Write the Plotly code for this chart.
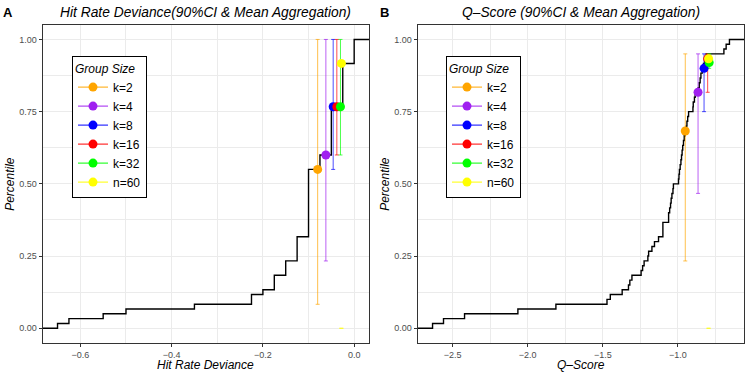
import plotly.graph_objects as go
import numpy as np

# ---------------- data ----------------
groups = ["k=2", "k=4", "k=8", "k=16", "k=32", "n=60"]
group_colors = ["#FFA500", "#A020F0", "#0000FF", "#FF0000", "#00FF00", "#FFFF00"]

# Panel A: hit-rate deviance ECDF (distinct values and their counts, n=60)
hr_values = [-0.65, -0.625, -0.55, -0.5, -0.35, -0.225, -0.2, -0.175, -0.15,
             -0.125, -0.1, -0.075, -0.05, -0.025, 0.0]
hr_counts = [1, 1, 1, 1, 1, 2, 1, 3, 3, 5, 14, 3, 10, 9, 5]

hr_mean_x = [-0.080, -0.062, -0.046, -0.038, -0.030, -0.028]
hr_mean_y = [0.550, 0.600, 0.767, 0.767, 0.767, 0.917]
hr_ci_lo = [0.083, 0.233, 0.550, 0.600, 0.600, 0.0]
hr_ci_hi = [1.0, 1.0, 1.0, 1.0, 1.0, 0.0]

# Panel B: Q-score ECDF (60 observations)
q_values = [-2.633, -2.560, -2.420, -2.065, -1.812, -1.472, -1.450, -1.371,
            -1.329, -1.320, -1.306, -1.245, -1.235, -1.225, -1.200, -1.195,
            -1.173, -1.156, -1.129, -1.100, -1.100, -1.100, -1.062, -1.062,
            -1.055, -1.049, -1.045, -1.040, -1.033, -1.030, -0.996, -0.993,
            -0.990, -0.985, -0.980, -0.976, -0.972, -0.968, -0.963, -0.958,
            -0.952, -0.945, -0.940, -0.935, -0.929, -0.900, -0.898, -0.890,
            -0.885, -0.865, -0.858, -0.852, -0.847, -0.838, -0.830, -0.822,
            -0.812, -0.694, -0.679, -0.657]

q_mean_x = [-0.951, -0.866, -0.826, -0.802, -0.792, -0.796]
q_mean_y = [0.683, 0.817, 0.900, 0.933, 0.920, 0.933]
q_ci_lo = [0.233, 0.467, 0.750, 0.817, 0.900, 0.0]
q_ci_hi = [0.95, 0.95, 0.95, 0.95, 0.95, 0.0]

x_ticks_a = [-0.6, -0.4, -0.2, 0.0]
x_ticks_b = [-2.5, -2.0, -1.5, -1.0]
y_ticks = [0.0, 0.25, 0.5, 0.75, 1.0]

FONT = "Liberation Sans"
TICK_COLOR = "#4D4D4D"
FRAME = "#333333"
GRID = "#EBEBEB"


def rgba(hex_color, a):
    h = hex_color.lstrip("#")
    r, g, b = int(h[0:2], 16), int(h[2:4], 16), int(h[4:6], 16)
    return f"rgba({r},{g},{b},{a})"


def expand(lo, hi, frac=0.05):
    d = (hi - lo) * frac
    return [lo - d, hi + d]


def ecdf_path(values, xrange):
    v = np.sort(np.asarray(values, dtype=float))
    n = len(v)
    uniq = np.unique(v)
    xs = [xrange[0]]
    ys = [0.0]
    for u in uniq:
        xs.append(u)
        ys.append(np.sum(v <= u) / n)
    xs.append(xrange[1])
    ys.append(1.0)
    return xs, ys


hr_all = np.repeat(hr_values, hr_counts)
xr_a = expand(min(hr_all.min(), min(hr_mean_x)), max(hr_all.max(), max(hr_mean_x)))
xr_b = expand(min(min(q_values), min(q_mean_x)), max(max(q_values), max(q_mean_x)))
yr = expand(0.0, 1.0)

fig = go.Figure()

panels = [
    dict(vals=hr_all, xr=xr_a, mx=hr_mean_x, my=hr_mean_y, lo=hr_ci_lo, hi=hr_ci_hi,
         xa="x", ya="y", legend="legend", cap=2),
    dict(vals=q_values, xr=xr_b, mx=q_mean_x, my=q_mean_y, lo=q_ci_lo, hi=q_ci_hi,
         xa="x2", ya="y2", legend="legend2", cap=2),
]

for p in panels:
    ex, ey = ecdf_path(p["vals"], p["xr"])
    fig.add_trace(go.Scatter(x=ex, y=ey, mode="lines", line=dict(color="black", width=1.4, shape="hv"),
                             xaxis=p["xa"], yaxis=p["ya"], showlegend=False, hoverinfo="skip"))
    # error bars
    for i, g in enumerate(groups):
        fig.add_trace(go.Scatter(
            x=[p["mx"][i]], y=[p["lo"][i]], mode="markers",
            marker=dict(size=1, opacity=0),
            error_y=dict(type="data", symmetric=False, array=[p["hi"][i] - p["lo"][i]],
                         arrayminus=[0], color=rgba(group_colors[i], 0.7), thickness=1,
                         width=p["cap"]),
            xaxis=p["xa"], yaxis=p["ya"], showlegend=False, hoverinfo="skip"))
    # points
    for i, g in enumerate(groups):
        fig.add_trace(go.Scatter(
            x=[p["mx"][i]], y=[p["my"][i]], mode="lines+markers", name=g,
            marker=dict(size=9, color=group_colors[i]),
            line=dict(color=group_colors[i], width=1),
            xaxis=p["xa"], yaxis=p["ya"], legend=p["legend"]))

W, H = 750, 375
top_px, bot_px = 25, 342.7
dom_y = [1 - bot_px / H, 1 - top_px / H]
dom_a = [42.7 / W, 369 / W]
dom_b = [417.7 / W, 744.3 / W]

axis_common = dict(showline=True, mirror=True, linecolor=FRAME, linewidth=1,
                   ticks="outside", ticklen=3, tickcolor=FRAME, tickwidth=1,
                   showgrid=True, gridcolor=GRID, gridwidth=1, zeroline=False,
                   tickfont=dict(family=FONT, size=9, color=TICK_COLOR))

fig.update_layout(
    width=W, height=H, margin=dict(l=0, r=0, t=0, b=0),
    paper_bgcolor="white", plot_bgcolor="white",
    font=dict(family=FONT, color="black"),
    xaxis=dict(domain=dom_a, range=xr_a, tickvals=x_ticks_a, tickformat=".1f", anchor="y",
               minor=dict(dtick=0.1, tick0=0, showgrid=True, gridcolor=GRID, gridwidth=0.6, ticks=""),
               **axis_common),
    yaxis=dict(domain=dom_y, range=yr, tickvals=y_ticks, tickformat=".2f", anchor="x",
               minor=dict(dtick=0.125, tick0=0, showgrid=True, gridcolor=GRID, gridwidth=0.6, ticks=""),
               **axis_common),
    xaxis2=dict(domain=dom_b, range=xr_b, tickvals=x_ticks_b, tickformat=".1f", anchor="y2",
                minor=dict(dtick=0.25, tick0=0, showgrid=True, gridcolor=GRID, gridwidth=0.6, ticks=""),
                **axis_common),
    yaxis2=dict(domain=dom_y, range=yr, tickvals=y_ticks, tickformat=".2f", anchor="x2",
                minor=dict(dtick=0.125, tick0=0, showgrid=True, gridcolor=GRID, gridwidth=0.6, ticks=""),
                **axis_common),
    legend=dict(x=72 / W, y=1 - 56 / H, xanchor="left", yanchor="top",
                bgcolor="white", bordercolor="black", borderwidth=1,
                font=dict(family=FONT, size=12),
                title=dict(text="<i>Group Size</i>", font=dict(family=FONT, size=12)),
                tracegroupgap=0),
    legend2=dict(x=446 / W, y=1 - 56 / H, xanchor="left", yanchor="top",
                 bgcolor="white", bordercolor="black", borderwidth=1,
                 font=dict(family=FONT, size=12),
                 title=dict(text="<i>Group Size</i>", font=dict(family=FONT, size=12)),
                 tracegroupgap=0),
)

annots = [
    dict(text="<b>A</b>", x=8 / W, y=1 - 12 / H, size=13, angle=0),
    dict(text="<b>B</b>", x=384 / W, y=1 - 12 / H, size=13, angle=0),
    dict(text="<i>Hit Rate Deviance(90%CI & Mean Aggregation)</i>", x=sum(dom_a) / 2, y=1 - 12.5 / H, size=13.8, angle=0),
    dict(text="<i>Q\u2013Score (90%CI & Mean Aggregation)</i>", x=sum(dom_b) / 2, y=1 - 12.5 / H, size=13.8, angle=0),
    dict(text="<i>Hit Rate Deviance</i>", x=sum(dom_a) / 2, y=1 - 365 / H, size=12, angle=0),
    dict(text="<i>Q\u2013Score</i>", x=sum(dom_b) / 2, y=1 - 365 / H, size=12, angle=0),
    dict(text="<i>Percentile</i>", x=10 / W, y=sum(dom_y) / 2, size=12, angle=-90),
    dict(text="<i>Percentile</i>", x=385 / W, y=sum(dom_y) / 2, size=12, angle=-90),
]
for a in annots:
    fig.add_annotation(text=a["text"], x=a["x"], y=a["y"], xref="paper", yref="paper",
                       xanchor="center", yanchor="middle", showarrow=False, textangle=a["angle"],
                       font=dict(family=FONT, size=a["size"], color="black"))

fig.write_html("out.html", config={"displayModeBar": False},
               post_script="document.body.style.margin='0';document.body.style.overflow='hidden';")
